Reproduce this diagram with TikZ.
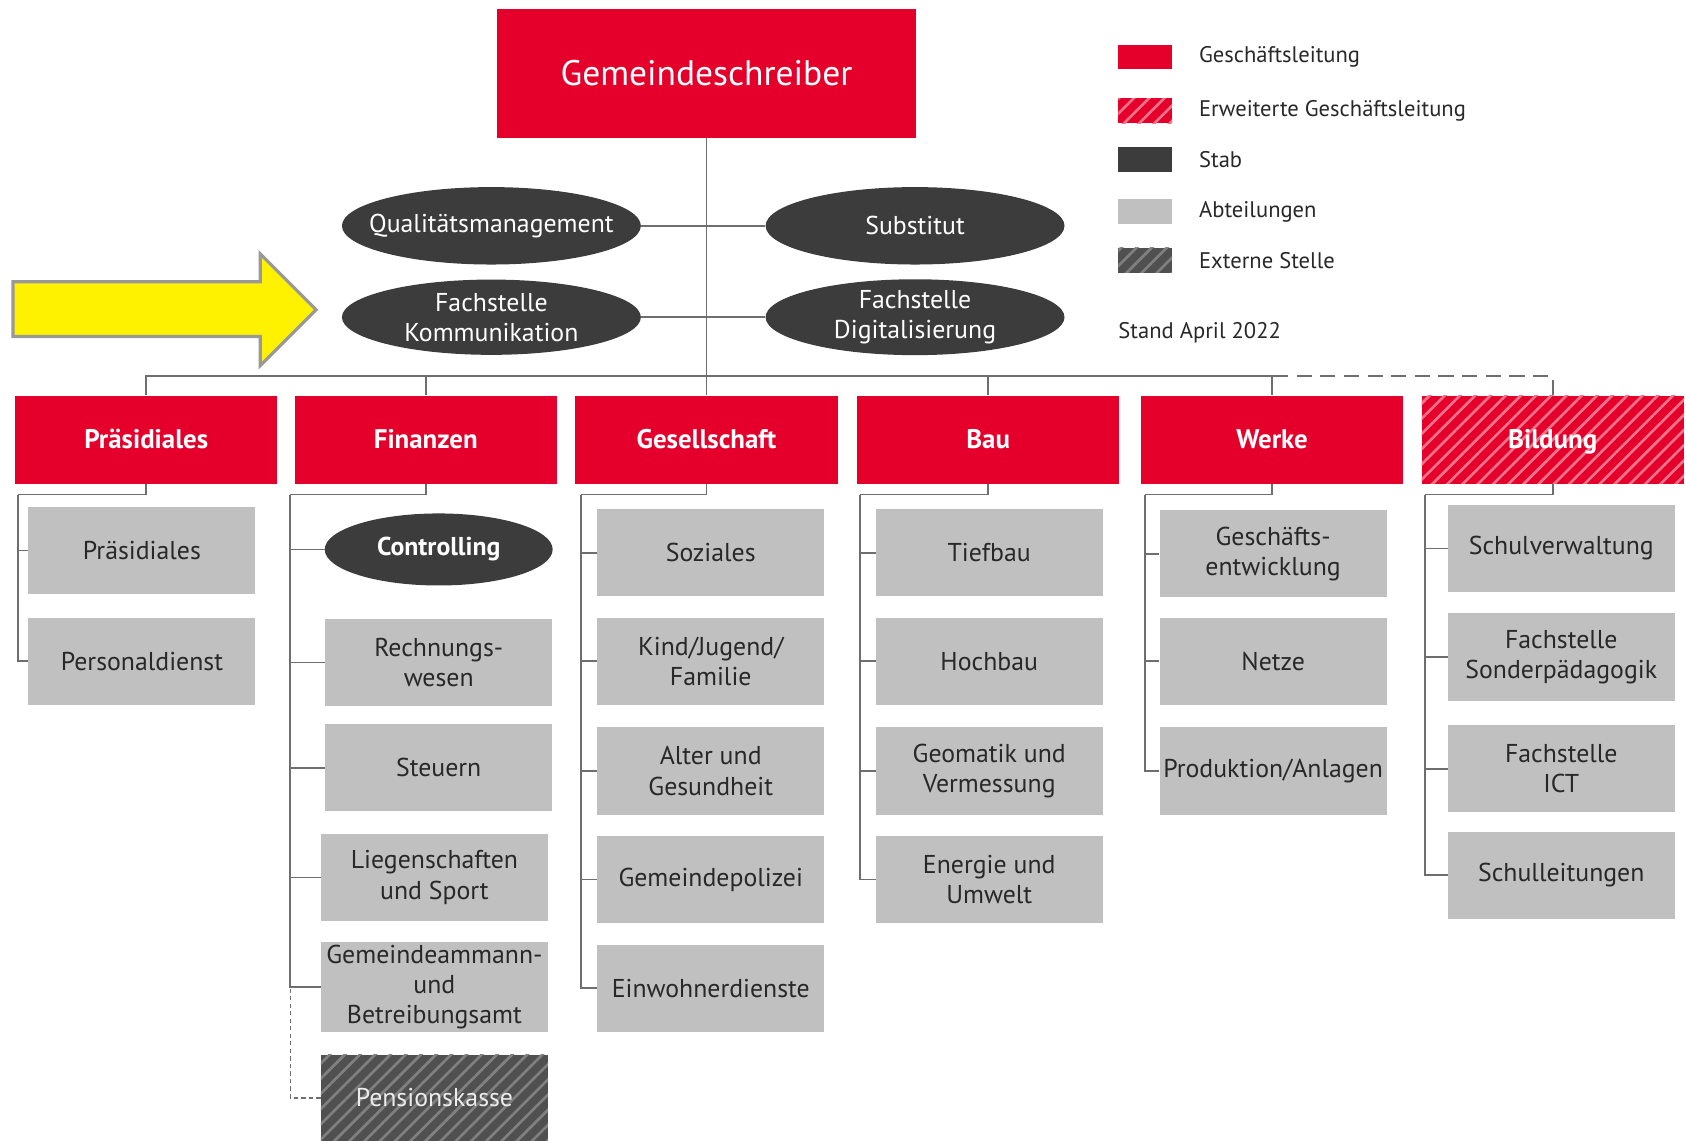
\documentclass[tikz,border=0pt]{standalone}
\usepackage{fontspec}
\setmainfont{PT Sans}
\usepackage{tikz}
\usetikzlibrary{arrows}
\usetikzlibrary{positioning,shapes.geometric,patterns.meta}
\definecolor{glred}{RGB}{228,0,43}
\definecolor{stabgray}{RGB}{60,60,60}
\definecolor{abtgray}{RGB}{192,192,192}
\definecolor{linegray}{RGB}{110,110,110}
\definecolor{txtgray}{RGB}{40,40,40}

\begin{document}
\begin{tikzpicture}
	[x=1pt,y=-1pt,every node/.style={inner sep=0pt,align=center,font=\fontsize{24}{28}\selectfont},
	conn/.style={draw=linegray,line width=1.6pt},
	gl/.style={rectangle,fill=glred,text=white,minimum width=244,minimum height=82,text height=17,text depth=0,font=\fontsize{25}{29}\selectfont\bfseries},
	egl/.style={gl,postaction={pattern={Lines[angle=45,distance=10pt,line width=2.5pt]},pattern color=glred!55!white}},
	stab/.style={ellipse,fill=stabgray,text=white,inner xsep=-16pt,minimum width=278,minimum height=72},
	abt/.style={rectangle,fill=abtgray,text=txtgray,minimum width=211,minimum height=81},
	extern/.style={abt,fill=stabgray!90!white,text=white!85!gray,postaction={pattern={Lines[angle=45,distance=10pt,line width=2.5pt]},pattern color=gray}},
	legtxt/.style={anchor=west,text=txtgray,font=\fontsize{21}{25}\selectfont}]
	\useasboundingbox (0,0) rectangle (1568,1061);
	
	% Leitung und Stab
	\node[gl,minimum width=390,minimum height=120,text height=23,text depth=0,font=\fontsize{33}{38}\selectfont] (gs) at (657,68) {Gemeindeschreiber};
	\node[stab] (qm) at (457,210) {Qualitätsmanagement};
	\node[stab] (sub) at (851,210) {Substitut};
	\node[stab,minimum height=70] (fk) at (457,295) {Fachstelle\\Kommunikation};
	\node[stab,minimum height=70] (fd) at (851,295) {Fachstelle\\Digitalisierung};
	\draw[fill=yellow,draw=gray!80,line width=3pt] (12,262) -- (242,262) -- (242,236) -- (294,288) -- (242,340) -- (242,313) -- (12,313) -- cycle;
	
	% Abteilungen
	\node[gl] (praes) at (136,409) {Präsidiales};
	\node[gl] (fin) at (396,409) {Finanzen};
	\node[gl] (ges) at (657,409) {Gesellschaft};
	\node[gl] (bau) at (919,409) {Bau};
	\node[gl] (werke) at (1183,409) {Werke};
	\node[egl] (bild) at (1444,409) {Bildung};
	
	\node[abt] (p1) at (132,512) {Präsidiales};
	\node[abt] (p2) at (132,615) {Personaldienst};
	
	\node[stab,minimum width=212,minimum height=67,font=\fontsize{24}{28}\selectfont\bfseries] (ctrl) at (408,511) {Controlling};
	\node[abt] (f1) at (408,616) {Rechnungs-\\wesen};
	\node[abt] (f2) at (408,714) {Steuern};
	\node[abt] (f3) at (404,816) {Liegenschaften\\und Sport};
	\node[abt,minimum height=83] (f4) at (404,918) {Gemeindeammann-\\und\\Betreibungsamt};
	\node[extern,minimum height=80] (pk) at (404,1021) {Pensionskasse};
	
	\node[abt] (g1) at (661,514) {Soziales};
	\node[abt] (g2) at (661,615) {Kind/Jugend/\\Familie};
	\node[abt] (g3) at (661,717) {Alter und\\Gesundheit};
	\node[abt] (g4) at (661,818) {Gemeindepolizei};
	\node[abt] (g5) at (661,919) {Einwohnerdienste};
	
	\node[abt] (b1) at (920,514) {Tiefbau};
	\node[abt] (b2) at (920,615) {Hochbau};
	\node[abt] (b3) at (920,717) {Geomatik und\\Vermessung};
	\node[abt] (b4) at (920,818) {Energie und\\Umwelt};
	
	\node[abt] (w1) at (1184,515) {Geschäfts-\\entwicklung};
	\node[abt] (w2) at (1184,615) {Netze};
	\node[abt] (w3) at (1184,717) {Produktion/Anlagen};
	
	\node[abt] (s1) at (1452,510) {Schulverwaltung};
	\node[abt] (s2) at (1452,611) {Fachstelle\\Sonderpädagogik};
	\node[abt] (s3) at (1452,715) {Fachstelle\\ICT};
	\node[abt] (s4) at (1452,814) {Schulleitungen};
	
	% Legende
	\node[gl,minimum width=50,minimum height=23] (lg1) at (1065,53) {};
	\node[egl,minimum width=50,minimum height=23] (lg2) at (1065,103) {};
	\node[rectangle,fill=stabgray,minimum width=50,minimum height=23] (lg3) at (1065,148) {};
	\node[abt,minimum width=50,minimum height=23] (lg4) at (1065,197) {};
	\node[extern,minimum width=50,minimum height=23] (lg5) at (1065,242) {};
	\node[legtxt] (lt1) at (1115,53) {Geschäftsleitung};
	\node[legtxt] (lt2) at (1115,103) {Erweiterte Geschäftsleitung};
	\node[legtxt] (lt3) at (1115,148) {Stab};
	\node[legtxt] (lt4) at (1115,197) {Abteilungen};
	\node[legtxt] (lt5) at (1115,242) {Externe Stelle};
	\node[legtxt] (stand) at (1040,309) {Stand April 2022};
	
	% Linien
	\coordinate (bar) at (657,350);
	\coordinate (kp) at (17,460);
	\coordinate (kf) at (270,460);
	\coordinate (kg) at (540,460);
	\coordinate (kb) at (800,460);
	\coordinate (kw) at (1065,460);
	\coordinate (ks) at (1325,460);
	\draw[conn] (gs.south) -- (bar);
	\draw[conn] (qm.east) -- (sub.west);
	\draw[conn] (fk.east) -- (fd.west);
	\foreach \from in {praes,fin,ges,bau,werke}
	\draw[conn] (\from.north) |- (bar);
	\draw[conn,dash pattern=on 14pt off 8pt] (bild.north) |- (werke.north |- bar);
	\foreach \from/\to in {praes/kp, fin/kf, ges/kg, bau/kb, werke/kw, bild/ks}
	\draw[conn] (\from.south) |- (\to);
	\foreach \from/\to in
	{p1/kp, p2/kp, ctrl/kf, f1/kf, f2/kf, f3/kf, f4/kf, g1/kg, g2/kg, g3/kg, g4/kg, g5/kg,
	 b1/kb, b2/kb, b3/kb, b4/kb, w1/kw, w2/kw, w3/kw, s1/ks, s2/ks, s3/ks, s4/ks}
	\draw[conn] (\from.west) -| (\to);
	\draw[conn,line width=1.2pt,dash pattern=on 4pt off 3pt] (pk.west) -| (kf |- f4.west);
\end{tikzpicture}
\end{document}
